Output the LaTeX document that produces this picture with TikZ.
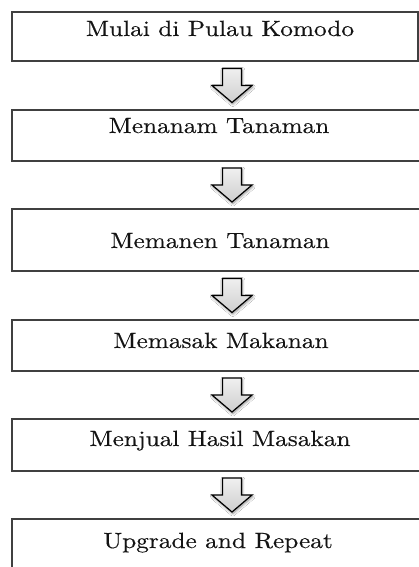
\documentclass[tikz,border=0pt]{standalone}
\usepackage{fontspec}
\setmainfont{lmroman10-regular.otf}[FakeBold=0.3]
\usetikzlibrary{calc,shadows.blur}
\newcommand\wtxt[1]{\scalebox{1.15}[1]{#1}}
\tikzset{
  box/.style={draw=black!75, line width=1.2pt, fill=white, rectangle, inner sep=0pt, outer sep=0pt, anchor=north west},
  lbl/.style={anchor=base, inner sep=0pt, font=\fontsize{22}{26}\selectfont, text=black!92},
  blockarrow/.style={draw=black, line width=1.2pt, line join=miter, top color=gray!12, bottom color=gray!38,
     blur shadow={shadow xshift=0.8pt, shadow yshift=-1.5pt, shadow blur steps=8, shadow opacity=45, shadow blur radius=2.5pt}}
}
\newcommand\flowarrow[2]{%
  \draw[blockarrow] let \p1=(#1.south), \p2=(#2.north), \n1={(\y1+\y2)/2} in
    (222.5pt,\n1+17pt) -- (241.5pt,\n1+17pt) -- (241.5pt,\n1) -- (252pt,\n1) --
    (232pt,\n1-17pt) -- (212pt,\n1) -- (222.5pt,\n1) -- cycle;}
\begin{document}
\begin{tikzpicture}[x=1pt,y=-1pt]
  \clip (0,0) rectangle (419,567);
  \fill[white] (0,0) rectangle (419,567);
  \node[box, minimum width=406pt, minimum height=49pt] (b1) at (12,12) {};
  \node[box, minimum width=420pt, minimum height=51pt] (b2) at (12,110) {};
  \node[box, minimum width=420pt, minimum height=62pt] (b3) at (12,209) {};
  \node[box, minimum width=420pt, minimum height=51pt] (b4) at (12,320) {};
  \node[box, minimum width=420pt, minimum height=52pt] (b5) at (12,419) {};
  \node[box, minimum width=420pt, minimum height=70pt] (b6) at (12,519) {};
  \node[lbl] (t1) at (220,36) {\wtxt{Mulai di Pulau Komodo}};
  \node[lbl] (t2) at (219,133) {\wtxt{Menanam Tanaman}};
  \node[lbl] (t3) at (220,248) {\wtxt{Memanen Tanaman}};
  \node[lbl] (t4) at (221,348) {\wtxt{Memasak Makanan}};
  \node[lbl] (t5) at (220,446) {\wtxt{Menjual Hasil Masakan}};
  \node[lbl] (t6) at (218,548) {\wtxt{Upgrade and Repeat}};
  \flowarrow{b1}{b2}
  \flowarrow{b2}{b3}
  \flowarrow{b3}{b4}
  \flowarrow{b4}{b5}
  \flowarrow{b5}{b6}
\end{tikzpicture}
\end{document}
